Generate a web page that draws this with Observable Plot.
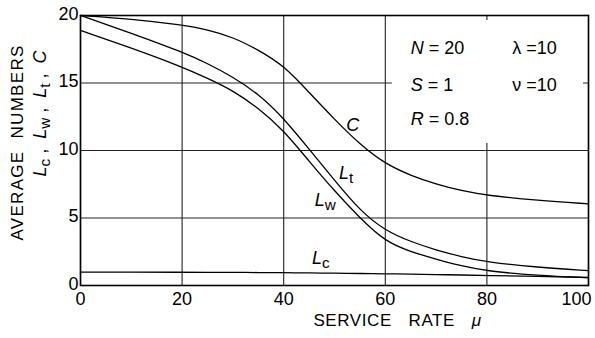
<!DOCTYPE html>
<html>
<head>
<meta charset="utf-8">
<script src="https://cdn.jsdelivr.net/npm/d3@7"></script>
<script src="https://cdn.jsdelivr.net/npm/@observablehq/plot@0.6"></script>
<style>
  html, body { margin: 0; padding: 0; background: #fff; }
  svg { display: block; }
</style>
</head>
<body>
<div id="chart"></div>
<script>
// service rate mu
const mu       = [0, 10, 20, 25, 30, 35, 40, 45, 50, 55, 60, 65, 70, 75, 80, 90, 100];
// series values
const seriesC  = [20, 19.75, 19.3, 18.95, 18.4, 17.45, 16.3, 14.3, 12.3, 10.45, 9.0, 8.15, 7.5, 7.02, 6.67, 6.3, 6.05];
const seriesLt = [20, 18.7, 17.3, 16.45, 15.45, 14.2, 12.4, 10.1, 7.8, 5.55, 4.05, 3.25, 2.62, 2.13, 1.73, 1.35, 1.1];
const seriesLw = [18.9, 17.6, 16.2, 15.35, 14.45, 13.15, 11.5, 9.2, 7.0, 5.0, 3.25, 2.5, 1.95, 1.45, 1.06, 0.75, 0.57];
const seriesLc = [0.99, 0.99, 0.98, 0.975, 0.97, 0.96, 0.95, 0.93, 0.91, 0.89, 0.87, 0.84, 0.81, 0.78, 0.74, 0.67, 0.6];
const seriesNames = ["C", "Lt", "Lw", "Lc"];
const xTicks = [0, 20, 40, 60, 80, 100];
const yTicks = [0, 5, 10, 15, 20];
const paramLeft = ["*N* = 20", "*S* = 1", "*R* = 0.8"];
const paramRight = ["λ =10", "ν =10"];
const curveLabels = ["*C*", "*L*_{t}", "*L*_{w}", "*L*_{c}"];
const xTitle = "SERVICE  RATE  *μ*";
const yTitle1 = "AVERAGE  NUMBERS";
const yTitle2 = "*L*_{c} ,  *L*_{w} ,  *L*_{t} ,  *C*";

const allSeries = [seriesC, seriesLt, seriesLw, seriesLc];
const rows = [];
seriesNames.forEach((name, k) => mu.forEach((m, i) => rows.push({series: name, mu: m, value: allSeries[k][i]})));

const labelPos = [
  {x: 53.6, y: 11.9}, {x: 52.3, y: 8.3}, {x: 48.2, y: 6.3}, {x: 47.3, y: 2.0}
];
const curveLabelData = curveLabels.map((t, i) => ({text: t, ...labelPos[i]}));
const paramLeftData = paramLeft.map((t, i) => ({text: t, x: 65, y: [17.55, 14.8, 12.35][i]}));
const paramRightData = paramRight.map((t, i) => ({text: t, x: 85, y: [17.55, 14.8][i]}));

const font = "Liberation Sans, Arial, sans-serif";

const chart = Plot.plot({
  width: 595,
  height: 338,
  marginLeft: 80,
  marginRight: 7,
  marginTop: 15,
  marginBottom: 53,
  style: {fontFamily: font, fontSize: "18px", color: "#000", background: "#fff"},
  x: {domain: [0, 100], label: null},
  y: {domain: [0, 20], label: null},
  marks: [
    Plot.ruleX(xTicks, {y1: 0, y2: 20, stroke: "#222", strokeWidth: 1.1}),
    Plot.ruleY(yTicks, {x1: 0, x2: 100, stroke: "#222", strokeWidth: 1.1}),
    Plot.rect([{x1: 60, x2: 100, y1: 10, y2: 20}], {
      x1: "x1", x2: "x2", y1: "y1", y2: "y2", fill: "white",
      insetLeft: 7, insetRight: 5, insetTop: 5, insetBottom: 7
    }),
    Plot.frame({stroke: "#000", strokeWidth: 1.6}),
    Plot.axisX(xTicks.slice(0, -1), {tickSize: 0, tickPadding: 7, label: null, fontSize: 18}),
    Plot.axisX(xTicks.slice(-1), {tickSize: 0, tickPadding: 7, label: null, fontSize: 18, textAnchor: "end", dx: 3}),
    Plot.axisY(yTicks, {tickSize: 0, tickPadding: 2, label: null, fontSize: 18, dy: -1.5}),
    Plot.line(rows, {x: "mu", y: "value", z: "series", curve: "basis", stroke: "#000", strokeWidth: 1.3}),
    Plot.text(curveLabelData, {x: "x", y: "y", text: "text", fontSize: 18, textAnchor: "middle"}),
    Plot.text(paramLeftData, {x: "x", y: "y", text: "text", fontSize: 18, textAnchor: "start"}),
    Plot.text(paramRightData, {x: "x", y: "y", text: "text", fontSize: 18, textAnchor: "start"}),
    Plot.text([xTitle], {frameAnchor: "bottom", dx: 63, dy: 40, fontSize: 17, textAnchor: "middle"}),
    Plot.text([yTitle1], {frameAnchor: "left", dx: -63, dy: -8, rotate: -90, fontSize: 17, textAnchor: "middle"}),
    Plot.text([yTitle2], {frameAnchor: "left", dx: -40, dy: -37, rotate: -90, fontSize: 18, textAnchor: "middle"})
  ]
});

// letter spacing for the axis titles
chart.querySelectorAll("text").forEach(t => {
  const s = t.textContent;
  if (s === yTitle1) t.setAttribute("letter-spacing", "1.3");
  if (s === xTitle) { t.setAttribute("letter-spacing", "0.6"); t.setAttribute("word-spacing", "3"); }
});

// turn *x* into italic and _{x} into subscript tspans
const NS = "http://www.w3.org/2000/svg";
chart.querySelectorAll("text").forEach(t => {
  const s = t.textContent;
  if (!/\*|_\{/.test(s)) return;
  while (t.firstChild) t.removeChild(t.firstChild);
  const parts = s.split(/(\*[^*]+\*|_\{[^}]+\})/).filter(p => p.length);
  let shifted = false;
  for (const p of parts) {
    const ts = document.createElementNS(NS, "tspan");
    if (p.startsWith("*")) {
      ts.textContent = p.slice(1, -1);
      ts.setAttribute("font-style", "italic");
      if (shifted) { ts.setAttribute("dy", "-4"); shifted = false; }
    } else if (p.startsWith("_{")) {
      ts.textContent = p.slice(2, -1);
      ts.setAttribute("dy", "4");
      ts.setAttribute("font-size", "0.85em");
      shifted = true;
    } else {
      ts.textContent = p;
      if (shifted) { ts.setAttribute("dy", "-4"); shifted = false; }
    }
    t.appendChild(ts);
  }
});

document.getElementById("chart").appendChild(chart);
</script>
</body>
</html>
